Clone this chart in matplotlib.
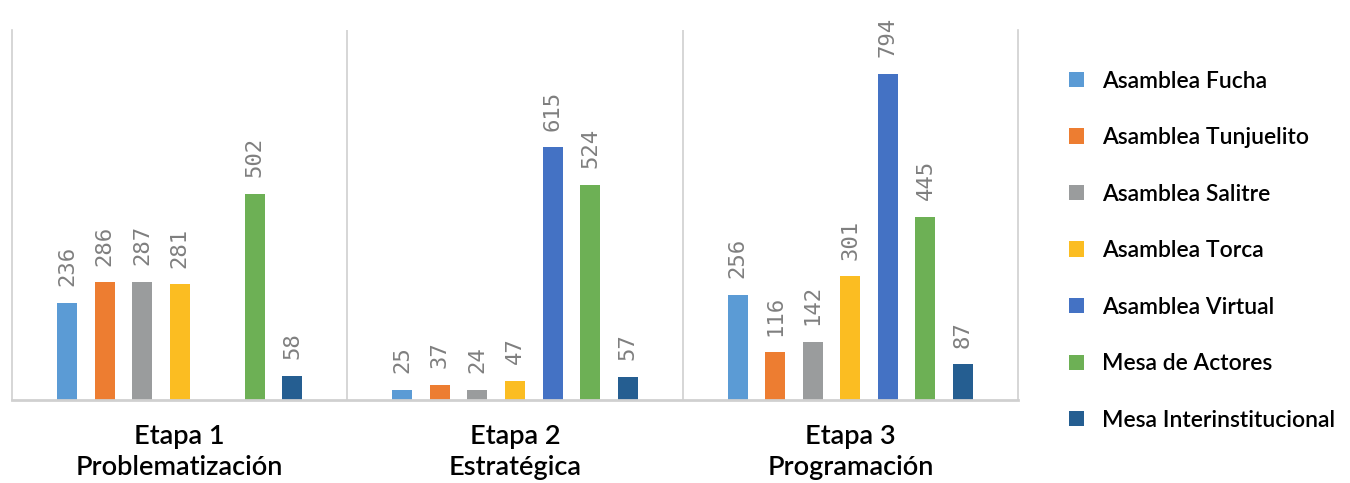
import matplotlib
matplotlib.use("Agg")
import matplotlib.pyplot as plt
import numpy as np

categories = ["Etapa 1\nProblematización", "Etapa 2\nEstratégica", "Etapa 3\nProgramación"]
series_names = ["Asamblea Fucha", "Asamblea Tunjuelito", "Asamblea Salitre",
                "Asamblea Torca", "Asamblea Virtual", "Mesa de Actores",
                "Mesa Interinstitucional"]
asamblea_fucha = [236, 25, 256]
asamblea_tunjuelito = [286, 37, 116]
asamblea_salitre = [287, 24, 142]
asamblea_torca = [281, 47, 301]
asamblea_virtual = [np.nan, 615, 794]
mesa_actores = [502, 524, 445]
mesa_interinstitucional = [58, 57, 87]
series_values = [asamblea_fucha, asamblea_tunjuelito, asamblea_salitre,
                 asamblea_torca, asamblea_virtual, mesa_actores,
                 mesa_interinstitucional]
colors = ["#5B9BD5", "#ED7D31", "#9A9C9D", "#FBBD22", "#4472C4", "#6DB055", "#255E91"]

fig = plt.figure(figsize=(13.5, 4.83), dpi=100)
ax = fig.add_axes([12/1350, 1-400/483, (1018-12)/1350, (400-30)/483])

x = np.arange(len(categories))
slot = 37.5/335
width = 20/335
handles = []
for i, (name, vals, c) in enumerate(zip(series_names, series_values, colors)):
    pos = x + (i-3)*slot
    b = ax.bar(pos, np.nan_to_num(vals), width, color=c, label=name)
    handles.append(b)
    for p, v in zip(pos, vals):
        if not np.isnan(v):
            ax.annotate(f"{int(v)}", (p, v), xytext=(0, 12), textcoords="offset points",
                        rotation=90, ha="center", va="bottom", color="#7f7f7f",
                        fontsize=16, family="DejaVu Sans Mono")

ax.set_xlim(-0.5, 2.5)
ax.set_ylim(0, 900)
ax.set_yticks([])
ax.set_xticks(x)
ax.set_xticklabels(categories, fontsize=19.5, family="Lato", fontweight=600,
                   linespacing=1.3)
ax.tick_params(axis="x", length=0, pad=17)
ax.spines["top"].set_visible(False)
for s in ["left", "right"]:
    ax.spines[s].set_color("#d0d0d0")
    ax.spines[s].set_linewidth(1.2)
ax.spines["bottom"].set_color("#d0d0d0")
ax.spines["bottom"].set_linewidth(2)
for xv in [0.5, 1.5]:
    ax.axvline(xv, color="#d0d0d0", lw=1.2)

fig.legend(handles=handles, labels=series_names, loc="upper left",
           bbox_to_anchor=(1048/1350, 1-50/483), frameon=False,
           prop={"family": "Lato", "size": 16.5, "weight": 600},
           handlelength=0.65, handleheight=0.65,
           labelspacing=1.55, handletextpad=0.8)

fig.savefig("out.png", dpi=100)
